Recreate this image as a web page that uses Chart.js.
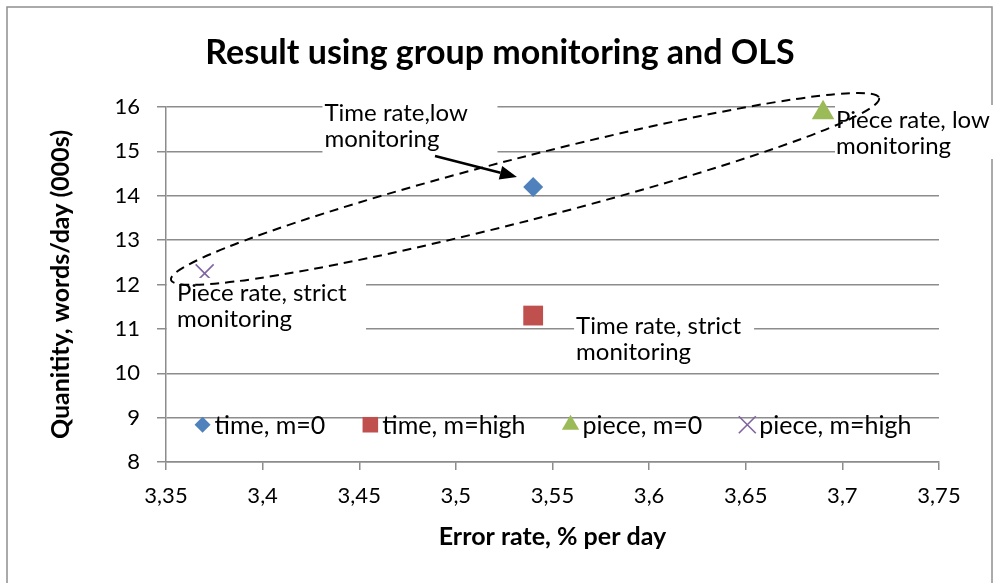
<!DOCTYPE html>
<html>
<head>
<meta charset="utf-8">
<script src="https://cdn.jsdelivr.net/npm/chart.js@4.4.1/dist/chart.umd.min.js"></script>
<style>
  html, body { margin: 0; padding: 0; background: #fff; }
  #wrap { width: 997px; height: 583px; }
</style>
</head>
<body>
<div id="wrap"><canvas id="chart" width="997" height="583"></canvas></div>
<script>
// data
const chartTitle = 'Result using group monitoring and OLS';
const seriesNames = ['time, m=0', 'time, m=high', 'piece, m=0', 'piece, m=high'];
const errorRate = [3.54, 3.54, 3.69, 3.37];
const quantity = [14.2, 11.3, 15.87, 12.25];

const xMin = 3.35, xMax = 3.75, xStep = 0.05;
const yMin = 8, yMax = 16, yStep = 1;

const noteTexts = [
  ['Time rate,low', 'monitoring'],
  ['Piece rate, low', 'monitoring'],
  ['Piece rate, strict', 'monitoring'],
  ['Time rate, strict', 'monitoring']
];

// styling
const markerStyles = ['rectRot', 'rect', 'triangle', 'crossRot'];
const markerColors = ['#4f81bd', '#c0504d', '#9bbb59', '#8064a2'];
const markerRadius = [10, 14, 13, 12.7];
const legendRadius = [8, 11, 10, 12];
const gridColor = '#8c8c8c';
const FONT = 'Lato, "Open Sans", sans-serif';

// annotation placement (data units for anchors, px for box padding)
const notes = {
  anchorX: [3.432, 3.6967, 3.3557, 3.5622],
  anchorY: [15.865, 15.707, 11.81, 11.07],
  // [left offset, width, top offset, bottom offset]
  box: [[-2, 175, -18, 20], [-1, 170, -15, 13], [-10, 199, -15, 14], [-2, 180, -14, 21]]
};
const arrow = { x0: 3.4892, y0: 14.896, x1: 3.5316, y1: 14.423 };
const ellipse = { x0: 3.3526, y0: 12.104, x1: 3.719, y1: 16.203, minor: 31.5 };
const legendY = 8.84;

const datasets = seriesNames.map((name, i) => ({
  label: name,
  data: [{ x: errorRate[i], y: quantity[i] }],
  pointStyle: markerStyles[i],
  pointRadius: markerRadius[i],
  pointHoverRadius: markerRadius[i],
  pointBackgroundColor: markerColors[i],
  pointBorderColor: markerColors[i],
  pointBorderWidth: markerStyles[i] === 'crossRot' ? 1.6 : 0,
  showLine: false,
  clip: false
}));

const notesPlugin = {
  id: 'notes',
  beforeDraw(chart) {
    const ctx = chart.ctx;
    ctx.save();
    ctx.fillStyle = '#fff';
    ctx.fillRect(0, 0, chart.width, chart.height);
    ctx.strokeStyle = '#8f8f8f';
    ctx.lineWidth = 1.5;
    ctx.strokeRect(7, 7, 985, 600);
    // title, centred on the whole frame
    ctx.fillStyle = '#000';
    ctx.font = 'bold 34px ' + FONT;
    ctx.textAlign = 'center';
    ctx.textBaseline = 'middle';
    ctx.fillText(chartTitle, 500, 53);
    ctx.restore();
  },
  afterDatasetsDraw(chart) {
    const ctx = chart.ctx;
    const xs = chart.scales.x, ys = chart.scales.y;
    const area = chart.chartArea;
    ctx.save();

    // text boxes
    ctx.font = '24px ' + FONT;
    ctx.textBaseline = 'middle';
    ctx.textAlign = 'left';
    const lineGap = 26;
    noteTexts.forEach((lines, i) => {
      const px = xs.getPixelForValue(notes.anchorX[i]);
      const py = ys.getPixelForValue(notes.anchorY[i]);
      const b = notes.box[i];
      const bottom = py + (lines.length - 1) * lineGap + b[3];
      ctx.fillStyle = '#fff';
      ctx.fillRect(px + b[0], py + b[2], b[1], bottom - (py + b[2]));
      ctx.fillStyle = '#000';
      lines.forEach((t, k) => ctx.fillText(t, px, py + k * lineGap));
    });

    // dashed ellipse
    const e0x = xs.getPixelForValue(ellipse.x0), e0y = ys.getPixelForValue(ellipse.y0);
    const e1x = xs.getPixelForValue(ellipse.x1), e1y = ys.getPixelForValue(ellipse.y1);
    const cx = (e0x + e1x) / 2, cy = (e0y + e1y) / 2;
    const rx = Math.hypot(e1x - e0x, e1y - e0y) / 2;
    const rot = Math.atan2(e1y - e0y, e1x - e0x);
    ctx.beginPath();
    ctx.setLineDash([9, 6]);
    ctx.lineWidth = 2;
    ctx.strokeStyle = '#000';
    ctx.ellipse(cx, cy, rx, ellipse.minor, rot, 0, Math.PI * 2);
    ctx.stroke();
    ctx.setLineDash([]);

    // arrow
    const a0x = xs.getPixelForValue(arrow.x0), a0y = ys.getPixelForValue(arrow.y0);
    const a1x = xs.getPixelForValue(arrow.x1), a1y = ys.getPixelForValue(arrow.y1);
    const ang = Math.atan2(a1y - a0y, a1x - a0x);
    const headLen = 17, headW = 7;
    const bx = a1x - headLen * Math.cos(ang), by = a1y - headLen * Math.sin(ang);
    ctx.beginPath();
    ctx.lineWidth = 2.5;
    ctx.moveTo(a0x, a0y);
    ctx.lineTo(bx, by);
    ctx.stroke();
    ctx.beginPath();
    ctx.fillStyle = '#000';
    ctx.moveTo(a1x, a1y);
    ctx.lineTo(bx + headW * Math.sin(ang), by - headW * Math.cos(ang));
    ctx.lineTo(bx - headW * Math.sin(ang), by + headW * Math.cos(ang));
    ctx.closePath();
    ctx.fill();

    // legend inside the plot, centred
    ctx.font = '25px ' + FONT;
    const markW = 18, textGap = 3, itemGap = 36;
    const widths = seriesNames.map(n => ctx.measureText(n).width);
    const total = widths.reduce((s, w) => s + markW + textGap + w, 0) + itemGap * (seriesNames.length - 1);
    let lx = (area.left + area.right) / 2 - total / 2;
    const ly = ys.getPixelForValue(legendY);
    seriesNames.forEach((name, i) => {
      ctx.fillStyle = markerColors[i];
      ctx.strokeStyle = markerColors[i];
      ctx.lineWidth = markerStyles[i] === 'crossRot' ? 1.6 : 0;
      Chart.helpers.drawPoint(ctx, {
        pointStyle: markerStyles[i],
        radius: legendRadius[i],
        rotation: 0,
        borderWidth: markerStyles[i] === 'crossRot' ? 1.6 : 0
      }, lx + markW / 2, ly);
      ctx.fillStyle = '#000';
      ctx.fillText(name, lx + markW + textGap, ly + 1);
      lx += markW + textGap + widths[i] + itemGap;
    });

    ctx.restore();
  }
};

new Chart(document.getElementById('chart'), {
  type: 'scatter',
  data: { datasets },
  options: {
    responsive: false,
    animation: false,
    events: [],
    layout: { padding: { left: 8, right: 58, top: 107, bottom: 0 } },
    plugins: {
      legend: { display: false },
      tooltip: { enabled: false },
      title: { display: false }
    },
    scales: {
      x: {
        type: 'linear',
        min: xMin,
        max: xMax,
        afterFit: (s) => { s.height = 121; },
        afterBuildTicks: (s) => {
          const t = [];
          for (let v = xMin; v <= xMax + 1e-9; v += xStep) t.push({ value: Math.round(v * 100) / 100 });
          s.ticks = t;
        },
        ticks: {
          color: '#000',
          font: { family: FONT, size: 22 },
          padding: 13,
          maxRotation: 0,
          autoSkip: false,
          callback: (v) => String(Math.round(v * 100) / 100).replace('.', ',')
        },
        grid: { drawOnChartArea: false, drawTicks: true, tickLength: 8, color: gridColor, lineWidth: 1.5 },
        border: { display: true, color: gridColor, width: 1.5 },
        title: {
          display: true,
          text: 'Error rate, % per day',
          color: '#000',
          font: { family: FONT, size: 25, weight: 'bold' },
          padding: { top: 0, bottom: 31 }
        }
      },
      y: {
        type: 'linear',
        min: yMin,
        max: yMax,
        afterFit: (s) => { s.width = 158; },
        ticks: {
          stepSize: yStep,
          color: '#000',
          font: { family: FONT, size: 22 },
          padding: 17
        },
        grid: { color: gridColor, lineWidth: 1.5, tickLength: 9 },
        border: { display: true, color: gridColor, width: 1.5 },
        title: {
          display: true,
          text: 'Quanitity, words/day (000s)',
          color: '#000',
          font: { family: FONT, size: 25, weight: 'bold' },
          padding: { top: 38, bottom: 0 }
        }
      }
    }
  },
  plugins: [notesPlugin]
});
</script>
</body>
</html>
